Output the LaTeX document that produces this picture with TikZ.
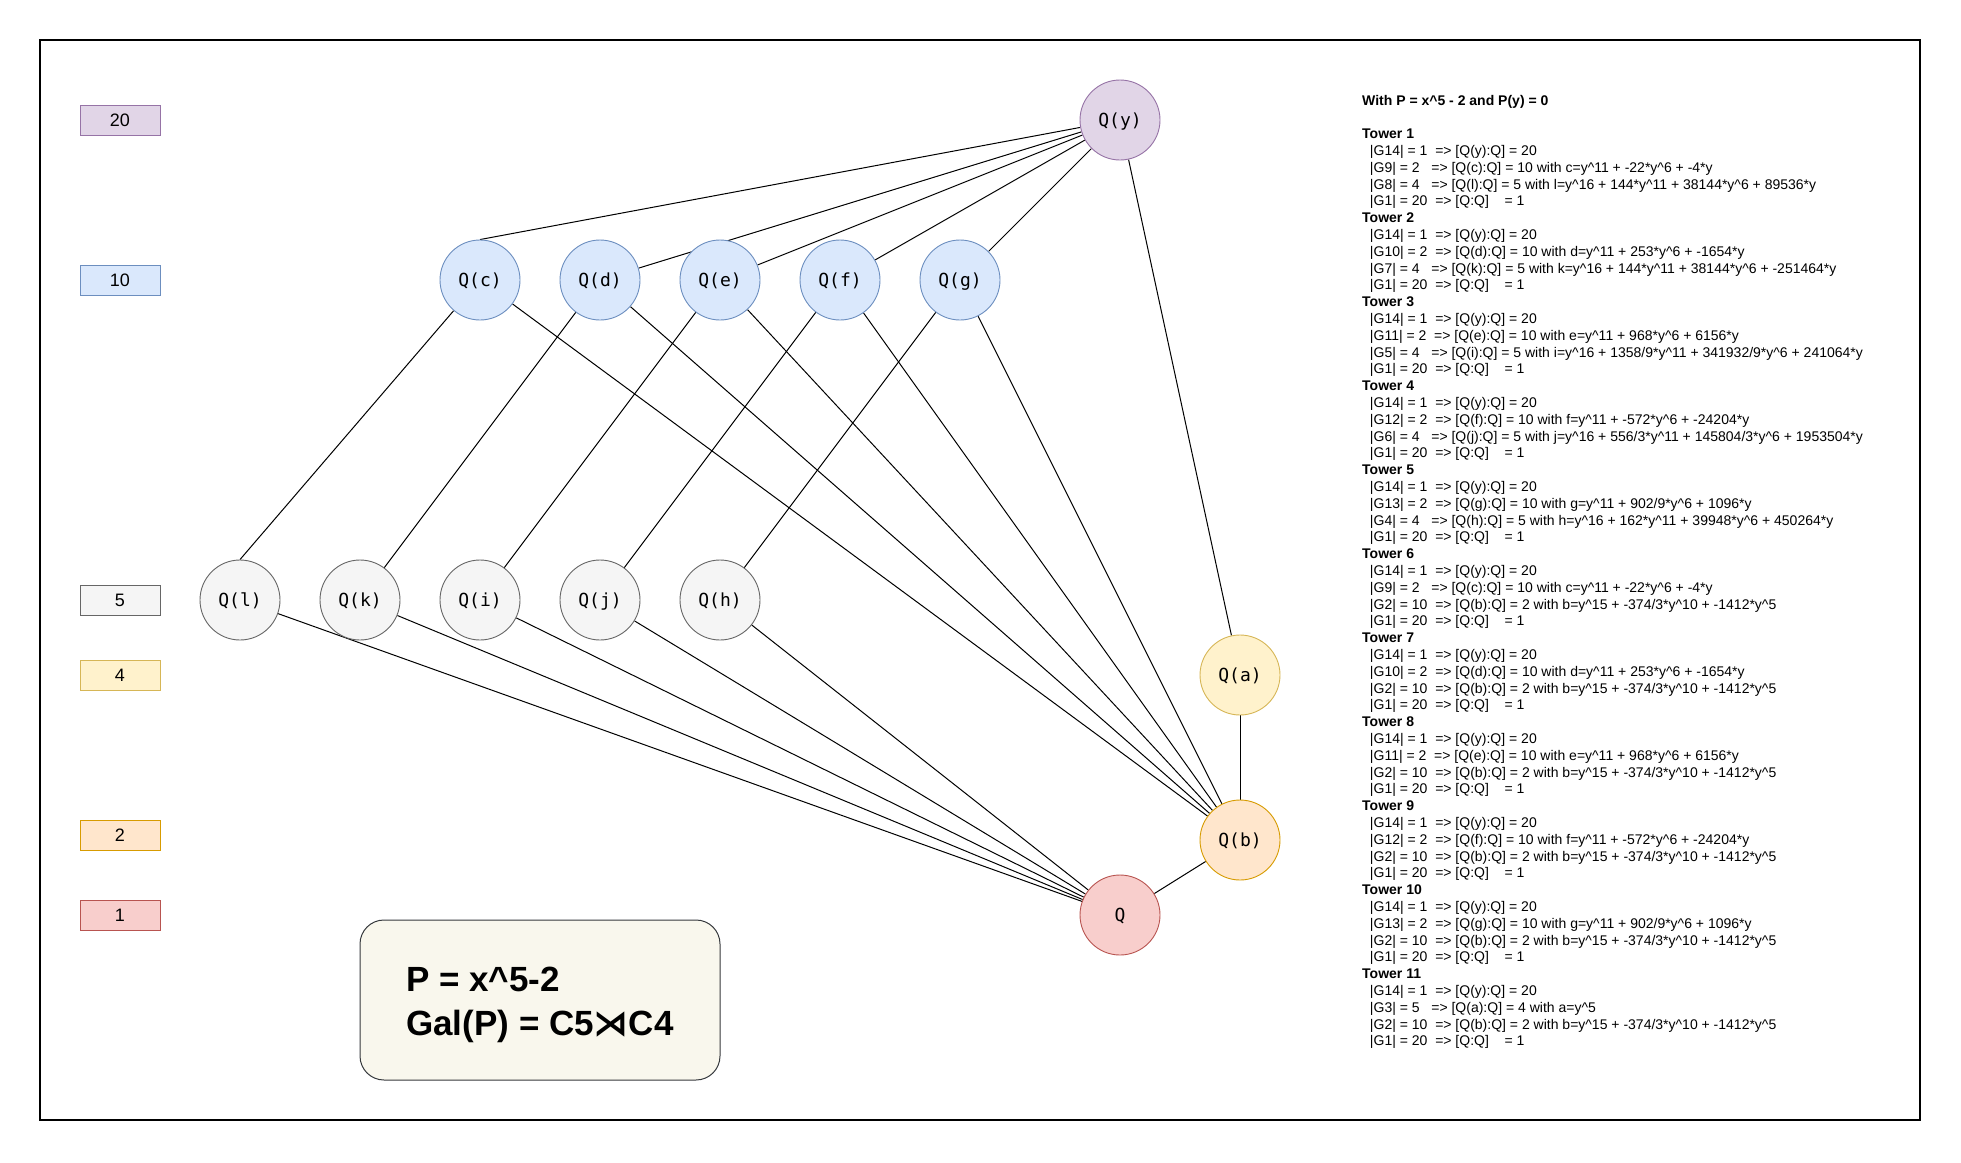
\documentclass[tikz,border=0pt]{standalone}
\usepackage{fontspec}
\setmainfont{Liberation Sans}
\newfontfamily\monof{DejaVu Sans Mono}
\newfontfamily\symf{DejaVu Sans}
\usetikzlibrary{backgrounds}
\definecolor{purF}{HTML}{E1D5E7}\definecolor{purD}{HTML}{9673A6}
\definecolor{bluF}{HTML}{DAE8FC}\definecolor{bluD}{HTML}{6C8EBF}
\definecolor{gryF}{HTML}{F5F5F5}\definecolor{gryD}{HTML}{666666}
\definecolor{yelF}{HTML}{FFF2CC}\definecolor{yelD}{HTML}{D6B656}
\definecolor{orF}{HTML}{FFE6CC}\definecolor{orD}{HTML}{D79B00}
\definecolor{redF}{HTML}{F8CECC}\definecolor{redD}{HTML}{B85450}
\definecolor{boxF}{HTML}{F9F7ED}\definecolor{boxD}{HTML}{36393D}
\newcommand\ca{\textasciicircum}
\newcommand\Ly{\ \ |G14| = 1\ \ => [Q(y):Q] = 20}
\newcommand\Lone{\ \ |G1| = 20\ \ => [Q:Q]\ \ \ \ = 1}
\newcommand\Lc{\ \ |G9| = 2\ \ \ => [Q(c):Q] = 10 with c=y\ca11 + -22*y\ca6 + -4*y}
\newcommand\Ld{\ \ |G10| = 2\ \ => [Q(d):Q] = 10 with d=y\ca11 + 253*y\ca6 + -1654*y}
\newcommand\Le{\ \ |G11| = 2\ \ => [Q(e):Q] = 10 with e=y\ca11 + 968*y\ca6 + 6156*y}
\newcommand\Lf{\ \ |G12| = 2\ \ => [Q(f):Q] = 10 with f=y\ca11 + -572*y\ca6 + -24204*y}
\newcommand\Lg{\ \ |G13| = 2\ \ => [Q(g):Q] = 10 with g=y\ca11 + 902/9*y\ca6 + 1096*y}
\newcommand\Lb{\ \ |G2| = 10\ \ => [Q(b):Q] = 2 with b=y\ca15 + -374/3*y\ca10 + -1412*y\ca5}
\newcommand\Tw[1]{\textbf{Tower #1}}
\tikzset{
  fnode/.style={circle, minimum size=80pt, inner sep=0pt, draw, line width=0.9pt, text height=13pt, text depth=0.5pt, font=\monof\fontsize{18}{20}\selectfont},
  lvl/.style={rectangle, minimum width=80pt, minimum height=30pt, inner sep=0pt, draw, line width=0.9pt, font=\fontsize{18}{20}\selectfont},
  edge/.style={line width=1pt, black},
}
\begin{document}
\begin{tikzpicture}[x=1pt, y=-1pt]
\useasboundingbox (0,0) rectangle (1961,1162);
\node[draw=black, line width=1.2pt, minimum width=1880pt, minimum height=1080pt, inner sep=0pt] (frame) at (980,580) {};
% level labels
\node[lvl, fill=purF, draw=purD] (L20) at (120,120) {20};
\node[lvl, fill=bluF, draw=bluD] (L10) at (120,280) {10};
\node[lvl, fill=gryF, draw=gryD] (L5) at (120,600) {5};
\node[lvl, fill=yelF, draw=yelD] (L4) at (120,675) {4};
\node[lvl, fill=orF, draw=orD] (L2) at (120,835) {2};
\node[lvl, fill=redF, draw=redD] (L1) at (120,915) {1};
% field nodes
\node[fnode, fill=purF, draw=purD] (y) at (1120,120) {Q(y)};
\node[fnode, fill=bluF, draw=bluD] (c) at (480,280) {Q(c)};
\node[fnode, fill=bluF, draw=bluD] (d) at (600,280) {Q(d)};
\node[fnode, fill=bluF, draw=bluD] (e) at (720,280) {Q(e)};
\node[fnode, fill=bluF, draw=bluD] (f) at (840,280) {Q(f)};
\node[fnode, fill=bluF, draw=bluD] (g) at (960,280) {Q(g)};
\node[fnode, fill=gryF, draw=gryD] (l) at (240,600) {Q(l)};
\node[fnode, fill=gryF, draw=gryD] (k) at (360,600) {Q(k)};
\node[fnode, fill=gryF, draw=gryD] (i) at (480,600) {Q(i)};
\node[fnode, fill=gryF, draw=gryD] (j) at (600,600) {Q(j)};
\node[fnode, fill=gryF, draw=gryD] (h) at (720,600) {Q(h)};
\node[fnode, fill=yelF, draw=yelD] (a) at (1240,675) {Q(a)};
\node[fnode, fill=orF, draw=orD] (b) at (1240,840) {Q(b)};
\node[fnode, fill=redF, draw=redD] (Q) at (1120,915) {Q};
% edges
\begin{scope}[on background layer]
\draw[edge] (c.north) -- (y);
\foreach \s in {d,e,f,g} \draw[edge] (\s) -- (y);
\draw[edge] (y) -- (a);
\draw[edge] (c) -- (l.north);
\draw[edge] (d) -- (k);
\draw[edge] (e) -- (i);
\draw[edge] (f) -- (j);
\draw[edge] (g) -- (h);
\foreach \s in {c,d,e,f,g} \draw[edge] (\s) -- (b);
\foreach \s in {l,k,i,j,h} \draw[edge] (\s) -- (Q);
\draw[edge] (a) -- (b);
\draw[edge] (b) -- (Q);
\end{scope}
% info box
\node[draw=boxD, fill=boxF, line width=1pt, rounded corners=24pt, minimum width=360pt, minimum height=160pt] (info) at (540,1000) {};
\node[align=left, inner sep=0pt, font=\bfseries\fontsize{35}{44}\selectfont] (infotext) at ([yshift=-5pt]info.center) {P = x\ca5-2\\Gal(P) = C5{\symf\bfseries ⋊}C4};
% tower text
\node[anchor=north west, inner sep=0pt, align=left, font=\fontsize{14}{16.8}\selectfont] (towers) at (1362,94.7) {%
\textbf{With P = x\ca5 - 2 and P(y) = 0}\\[16.8pt]
\Tw{1}\\ \Ly\\ \Lc\\
\ \ |G8| = 4\ \ \ => [Q(l):Q] = 5 with l=y\ca16 + 144*y\ca11 + 38144*y\ca6 + 89536*y\\ \Lone\\
\Tw{2}\\ \Ly\\ \Ld\\
\ \ |G7| = 4\ \ \ => [Q(k):Q] = 5 with k=y\ca16 + 144*y\ca11 + 38144*y\ca6 + -251464*y\\ \Lone\\
\Tw{3}\\ \Ly\\ \Le\\
\ \ |G5| = 4\ \ \ => [Q(i):Q] = 5 with i=y\ca16 + 1358/9*y\ca11 + 341932/9*y\ca6 + 241064*y\\ \Lone\\
\Tw{4}\\ \Ly\\ \Lf\\
\ \ |G6| = 4\ \ \ => [Q(j):Q] = 5 with j=y\ca16 + 556/3*y\ca11 + 145804/3*y\ca6 + 1953504*y\\ \Lone\\
\Tw{5}\\ \Ly\\ \Lg\\
\ \ |G4| = 4\ \ \ => [Q(h):Q] = 5 with h=y\ca16 + 162*y\ca11 + 39948*y\ca6 + 450264*y\\ \Lone\\
\Tw{6}\\ \Ly\\ \Lc\\ \Lb\\ \Lone\\
\Tw{7}\\ \Ly\\ \Ld\\ \Lb\\ \Lone\\
\Tw{8}\\ \Ly\\ \Le\\ \Lb\\ \Lone\\
\Tw{9}\\ \Ly\\ \Lf\\ \Lb\\ \Lone\\
\Tw{10}\\ \Ly\\ \Lg\\ \Lb\\ \Lone\\
\Tw{11}\\ \Ly\\
\ \ |G3| = 5\ \ \ => [Q(a):Q] = 4 with a=y\ca5\\ \Lb\\ \Lone};
\end{tikzpicture}
\end{document}
